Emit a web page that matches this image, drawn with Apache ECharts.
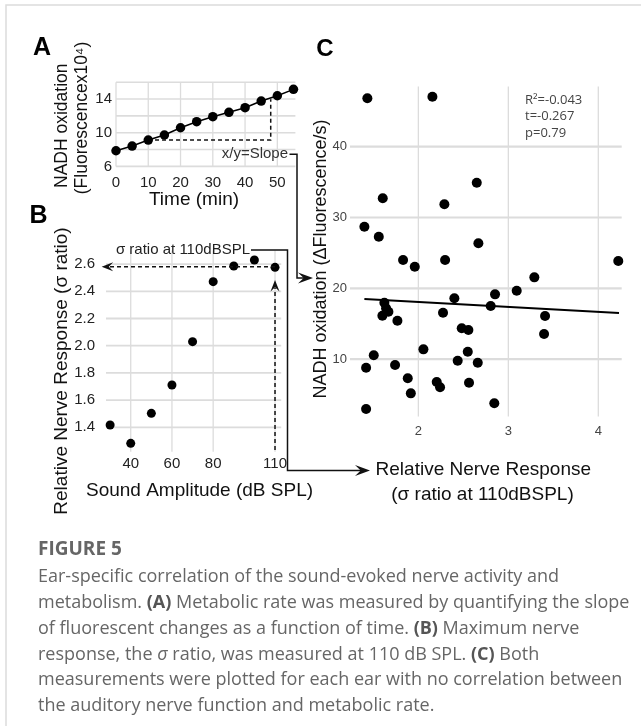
<!DOCTYPE html>
<html><head><meta charset="utf-8">
<script src="https://cdn.jsdelivr.net/npm/echarts@6/dist/echarts.min.js"></script>
<style>html,body{margin:0;padding:0;background:#fff}#c{width:641px;height:726px}</style>
</head><body><div id="c"></div>
<script>
// ---- Panel A : NADH oxidation vs time ----
const timeMin = [0, 5, 10, 15, 20, 25, 30, 35, 40, 45, 50, 55];
const nadhA = [7.86, 8.42, 9.13, 9.73, 10.59, 11.31, 11.9, 12.42, 12.97, 13.76, 14.39, 15.15];
const ticksAx = [0, 10, 20, 30, 40, 50];
const labelsAy = [6, 10, 14];
const gridAy = [6, 8, 10, 12, 14, 16];
// ---- Panel B : sigma ratio vs sound amplitude ----
const soundDb = [30, 40, 50, 60, 70, 80, 90, 100, 110];
const sigmaRatio = [1.417, 1.282, 1.503, 1.711, 2.03, 2.471, 2.586, 2.63, 2.576];
const ticksBx = [40, 60, 80, 110];
const ticksBy = [1.4, 1.6, 1.8, 2.0, 2.2, 2.4, 2.6];
// ---- Panel C : NADH oxidation rate vs relative nerve response ----
const nerveX = [1.433, 2.156, 2.649, 1.604, 2.289, 1.40, 1.56, 2.667, 1.83, 1.96, 2.297, 4.222, 3.289, 3.093,
  2.852, 2.40, 2.804, 1.622, 1.641, 1.667, 1.60, 2.274, 1.767, 3.408, 2.482, 2.556, 3.397, 2.056, 2.549, 1.504,
  2.437, 2.66, 1.419, 1.741, 1.882, 2.204, 2.241, 2.563, 1.916, 2.844, 1.419];
const nadhC = [46.84, 47.06, 34.92, 32.71, 31.86, 28.7, 27.29, 26.36, 24.0, 23.05, 24.0, 23.86, 21.55, 19.66,
  19.15, 18.59, 17.5, 17.97, 17.18, 16.7, 16.13, 16.55, 15.42, 16.09, 14.35, 14.11, 13.55, 11.38, 11.05, 10.54,
  9.77, 9.49, 8.79, 9.17, 7.29, 6.77, 6.02, 6.67, 5.17, 3.76, 2.95];
const fitX = [1.40, 4.23];
const fitY = [18.49, 16.5];
const ticksCx = [2, 3, 4];
const ticksCy = [10, 20, 30, 40];
const statsC = ['R\u00b2=-0.043', 't=-0.267', 'p=0.79'];

const FONT = '"Liberation Sans", Arial, sans-serif';
const chart = echarts.init(document.getElementById('c'), null, {renderer: 'canvas'});
const zip = (a, b) => a.map((v, i) => [v, b[i]]);
const GRIDC = '#dcdcdc';

function ax(gi, min, max, labels, lines, fs, col, margin, lw, fmt) {
  return {
    type: 'value', gridIndex: gi, min: min, max: max,
    axisLine: {show: false},
    axisTick: {show: false},
    axisLabel: {customValues: labels, fontSize: fs, color: col, fontFamily: FONT, margin: margin,
      formatter: fmt || (v => String(v))},
    splitLine: {show: false}
  };
}

chart.setOption({
  animation: false,
  grid: [
    {left: 116, top: 82.2, width: 179.4, height: 84.2},
    {left: 106, top: 250.5, width: 175.2, height: 201.3},
    {left: 350, top: 86.5, width: 271.7, height: 330}
  ],
  xAxis: [
    ax(0, 0, 55.6, ticksAx, ticksAx, 15, '#222', 9),
    ax(1, 28, 113, ticksBx, ticksBx, 15, '#222', 5),
    ax(2, 1.24, 4.26, ticksCx, ticksCx, 13, '#444', 8)
  ],
  yAxis: [
    ax(0, 6, 16, labelsAy, gridAy, 15, '#222', 4),
    ax(1, 1.22, 2.7, ticksBy, ticksBy, 15, '#222', 11, 1.8, v => v.toFixed(1)),
    ax(2, 1.9, 48.5, ticksCy, ticksCy, 13, '#444', 3)
  ],
  series: [
    {type: 'line', xAxisIndex: 0, yAxisIndex: 0, data: zip(timeMin, nadhA), symbol: 'circle', symbolSize: 9.5,
      itemStyle: {color: '#000', opacity: 1}, lineStyle: {color: '#000', width: 1.5}, z: 5},
    {type: 'scatter', xAxisIndex: 1, yAxisIndex: 1, data: zip(soundDb, sigmaRatio), symbolSize: 9,
      itemStyle: {color: '#000', opacity: 1}, z: 5},
    {type: 'scatter', xAxisIndex: 2, yAxisIndex: 2, data: zip(nerveX, nadhC), symbolSize: 10,
      itemStyle: {color: '#000', opacity: 1}, z: 5},
    {type: 'line', xAxisIndex: 2, yAxisIndex: 2, data: zip(fitX, fitY), showSymbol: false,
      lineStyle: {color: '#000', width: 2}, z: 4}
  ]
});

const px = (gi, x, y) => chart.convertToPixel({gridIndex: gi}, [x, y]);
function arrowHead(tx, ty, dir, len, hw) {
  let p;
  if (dir === 'right') p = [[tx, ty], [tx - len, ty - hw], [tx - len * 0.62, ty], [tx - len, ty + hw]];
  else if (dir === 'left') p = [[tx, ty], [tx + len, ty - hw], [tx + len * 0.62, ty], [tx + len, ty + hw]];
  else p = [[tx, ty], [tx - hw, ty + len], [tx, ty + len * 0.62], [tx + hw, ty + len]];
  return {type: 'polygon', shape: {points: p}, style: {fill: '#111'}, z: 20};
}
function poly(points, dash) {
  return {type: 'polyline', shape: {points: points},
    style: {stroke: '#111', lineWidth: 1.5, fill: null, lineDash: dash || null}, z: 20};
}
function txt(t, x, y, size, opts) {
  opts = opts || {};
  return {type: 'text', x: x, y: y, rotation: opts.rot || 0, z: 30,
    style: {text: t, x: 0, y: 0, align: opts.align || 'center', verticalAlign: 'middle',
      fontSize: size, fontFamily: opts.family || FONT, fontWeight: opts.weight || 'normal',
      fill: opts.color || '#111'}};
}

const g = [];
// grid lines drawn through the axes' own scales
function gridLines(gi, xmin, xmax, ymin, ymax, xs, ys, wx, wy) {
  xs.forEach(v => {
    const p1 = px(gi, v, ymin), p2 = px(gi, v, ymax);
    g.push({type: 'polyline', z: 1, silent: true, shape: {points: [p1, p2]},
      style: {stroke: GRIDC, lineWidth: wx, fill: null}});
  });
  ys.forEach(v => {
    const p1 = px(gi, xmin, v), p2 = px(gi, xmax, v);
    g.push({type: 'polyline', z: 1, silent: true, shape: {points: [p1, p2]},
      style: {stroke: GRIDC, lineWidth: wy, fill: null}});
  });
}
gridLines(0, 0, 55.6, 6, 16, ticksAx, gridAy, 1.3, 1.6);
gridLines(1, 28, 113, 1.22, 2.7, ticksBx, ticksBy, 1.3, 1.8);
gridLines(2, 1.24, 4.26, 1.9, 48.5, ticksCx, ticksCy, 1.3, 2.2);

// frame
g.push({type: 'polyline', shape: {points: [[641, 5], [6, 5], [6, 726]]}, style: {stroke: '#dcdcdc', lineWidth: 1.5, fill: null}});

// Panel A dashed slope construction
const a1 = px(0, 12.1, 9.13), a2 = px(0, 47.95, 9.13), a3 = px(0, 47.95, 13.97);
g.push(poly([a1, a2, a3], [4, 3]));
// connector A -> C y axis
g.push(poly([[289.5, 154.3], [297, 154.3], [297, 278], [305, 278]]));
g.push(arrowHead(313, 278, 'right', 15, 5.5));
// Panel B dashed arrows
const b110 = px(1, 110, 2.58);
const bLeft = px(1, 25.9, 2.58);
g.push(poly([[b110[0], b110[1]], [bLeft[0] + 8, b110[1]]], [4, 3]));
g.push(arrowHead(bLeft[0], b110[1], 'left', 11.5, 4.5));
const bBot = px(1, 110, 1.233), bTop = px(1, 110, 2.483);
g.push(poly([[bBot[0], bBot[1]], [bBot[0], bTop[1] + 8]], [4, 3]));
g.push(arrowHead(bBot[0], bTop[1], 'up', 11.5, 4.5));
// connector B -> C x axis
g.push(poly([[251, 250], [287.5, 250], [287.5, 470.5], [362, 470.5]]));
g.push(arrowHead(370, 470.5, 'right', 15, 5.5));

// panel letters
g.push(txt('A', 42, 48.5, 25, {weight: 'bold', color: '#000'}));
g.push(txt('B', 38.5, 216, 25, {weight: 'bold', color: '#000'}));
g.push(txt('C', 325, 49, 24, {weight: 'bold', color: '#000'}));

// axis titles
const R = Math.PI / 2;
g.push(txt('NADH oxidation', 61.7, 125.7, 17.5, {rot: R}));
g.push(txt('(Fluorescencex10\u2074)', 82.5, 118, 17.5, {rot: R}));
g.push(txt('Time (min)', 194, 200, 19));
g.push(txt('Relative Nerve Response (\u03c3 ratio)', 62, 371, 19, {rot: R}));
g.push(txt('Sound Amplitude (dB SPL)', 199.5, 491, 19));
g.push(txt('NADH oxidation (\u0394Fluorescence/s)', 321, 259, 18, {rot: R}));
g.push(txt('Relative Nerve Response', 483.3, 470, 19));
g.push(txt('(\u03c3 ratio at 110dBSPL)', 482.5, 495, 19));

// annotations
g.push(txt('x/y=Slope', 288, 154.3, 15, {align: 'right', color: '#333'}));
g.push(txt('\u03c3 ratio at 110dBSPL', 250, 250, 15, {align: 'right', color: '#222'}));
statsC.forEach((s, i) => g.push(txt(s, 525, [100, 116.5, 133][i], 13,
  {align: 'left', color: '#444', family: '"Open Sans", sans-serif'})));

// caption
const CF = '"Open Sans", "Noto Sans", sans-serif';
const CS = 18;
g.push(txt('FIGURE 5', 38, 550, 19, {align: 'left', weight: 'bold', color: '#666', family: CF}));
const capLines = [
  'Ear-specific correlation of the sound-evoked nerve activity and',
  'metabolism. {b|(A)} Metabolic rate was measured by quantifying the slope',
  'of fluorescent changes as a function of time. {b|(B)} Maximum nerve',
  'response, the {i|\u03c3} ratio, was measured at 110 dB SPL. {b|(C)} Both',
  'measurements were plotted for each ear with no correlation between',
  'the auditory nerve function and metabolic rate.'
];
capLines.forEach((l, i) => {
  g.push({type: 'text', x: 38, y: 577 + i * 25.8, z: 30,
    style: {text: l, x: 0, y: 0, align: 'left', verticalAlign: 'middle',
      fontSize: CS, fontFamily: CF, fill: '#666',
      rich: {
        b: {fontSize: CS, fontFamily: CF, fontWeight: 'bold', fill: '#555'},
        i: {fontSize: CS, fontFamily: CF, fontStyle: 'italic', fill: '#666'}
      }}});
});

chart.setOption({graphic: g});
</script></body></html>
